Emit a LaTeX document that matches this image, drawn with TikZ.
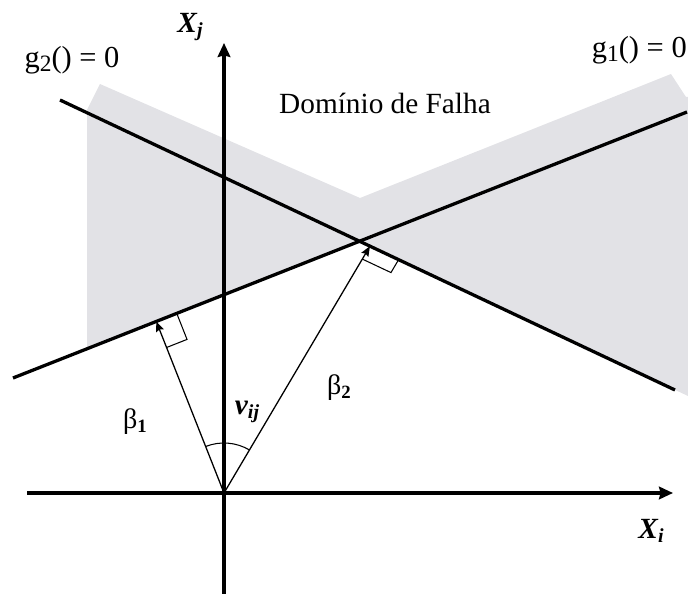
\documentclass[tikz,border=0pt]{standalone}
\usepackage{fontspec}
\setmainfont{Liberation Serif}
\usetikzlibrary{arrows.meta,calc,angles}

\definecolor{failgray}{RGB}{226,226,230}
\newcommand{\sublbl}[3]{#1\raisebox{-0.3ex}{\fontsize{#3}{#3}\selectfont #2}}

\begin{document}
\begin{tikzpicture}[
        x=0.03cm, y=-0.03cm,
        axis/.style={draw, line width=3.6pt, -{Stealth[length=0.42cm, width=0.38cm, inset=0.05cm]}},
        limit/.style={draw, line width=2.8pt},
        vec/.style={draw, line width=1.1pt, -{Stealth[length=0.3cm, width=0.24cm, inset=0.04cm]}},
        rightangle/.style={draw, line width=0.9pt},
        lbl/.style={inner sep=0pt, font=\fontsize{26}{26}\selectfont},
        axlbl/.style={inner sep=0pt, font=\fontsize{25}{25}\selectfont\bfseries\itshape},
        greek/.style={inner sep=0pt, font=\fontsize{24}{24}\selectfont}
    ]
        \useasboundingbox (0,0) rectangle (688,596);

        % points
        \coordinate (O) at (224,493);
        \coordinate (xa) at (27,493);
        \coordinate (xb) at (673,493);
        \coordinate (ya) at (224,594);
        \coordinate (yb) at (224,43);
        \coordinate (g1a) at (13,378);
        \coordinate (g1b) at (687,112);
        \coordinate (g2a) at (60,100);
        \coordinate (g2b) at (675,390);
        \coordinate (I) at (intersection of g1a--g1b and g2a--g2b);
        \coordinate (F1) at ($(g1a)!(O)!(g1b)$);
        \coordinate (F2) at ($(g2a)!0.504!(g2b)$);

        % failure domain
        \fill[failgray] (87,110) -- (100,84) -- (360,198) -- (671,74) -- (686,97)
            -- (688,97) -- (688,396) -- (I) -- (87,349) -- cycle;

        % limit state lines
        \path[limit] (g1a) -- (g1b);
        \path[limit] (g2a) -- (g2b);

        % axes
        \path[axis] (xa) -- (xb);
        \path[axis] (ya) -- (yb);

        % reliability vectors
        \path[vec] (O) -- (F1);
        \path[vec] (O) -- (F2);

        \coordinate (m1a) at ($(F1)!0.84cm!(O)$);
        \coordinate (m1c) at ($(F1)!0.66cm!(g1b)$);
        \coordinate (m1b) at ($(m1a)+(m1c)-(F1)$);
        \path[rightangle] (m1a) -- (m1b) -- (m1c);

        \coordinate (m2a) at ($(F2)!0.45cm!(O)$);
        \coordinate (m2c) at ($(F2)!0.95cm!(g2b)$);
        \coordinate (m2b) at ($(m2a)+(m2c)-(F2)$);
        \path[rightangle] (m2a) -- (m2b) -- (m2c);

        \pic[draw, line width=0.9pt, angle radius=1.5cm] {angle=F2--O--F1};

        % labels
        \node[axlbl] (xj) at (190,27) {\sublbl{X}{j}{17}};
        \node[axlbl] (xi) at (651,531) {\sublbl{X}{i}{17}};
        \node[axlbl] (vij) at (247,412) {\sublbl{v}{ij}{17}};
        \node[lbl] (g2lbl) at (72,60) {\sublbl{g}{2}{20}() = 0};
        \node[lbl, anchor=east] (g1lbl) at (687,50) {\sublbl{g}{1}{20}() = 0};
        \node[lbl, font=\fontsize{25}{25}\selectfont] (dom) at (385,103) {Domínio de Falha};
        \node[greek] (b1) at (135,422) {β\raisebox{-0.3ex}{\fontsize{16}{16}\selectfont\bfseries 1}};
        \node[greek] (b2) at (339,388) {β\raisebox{-0.3ex}{\fontsize{16}{16}\selectfont\bfseries 2}};
    \end{tikzpicture}
\end{document}
